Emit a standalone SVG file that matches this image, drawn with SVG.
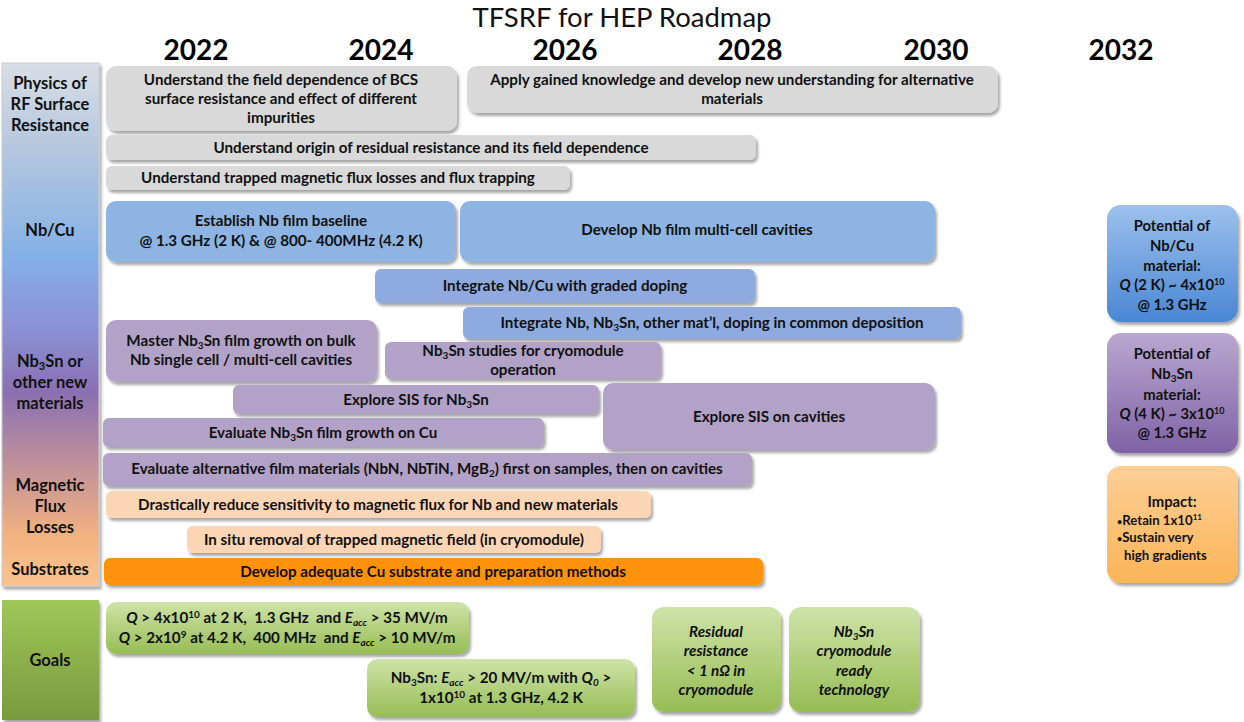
<svg xmlns="http://www.w3.org/2000/svg" width="1244" height="722" viewBox="0 0 1244 722">
<style>
text{font-family:Lato,"Open Sans","Liberation Sans",sans-serif;font-weight:bold;fill:#111;text-anchor:middle}
.t{font-size:15.2px}
.r{font-size:14.8px}
.s{font-size:13.2px}
.side{font-size:16.5px}
.year{font-size:28px;fill:#000}
.title{font-size:27.5px;font-weight:normal;fill:#111}
.i{font-style:italic}
.box{filter:url(#sh)}
.gray{fill:#d9d9d9}
.blue{fill:#8db4e2}
.bp{fill:#8eaadf}
.pur{fill:#b3a2c7}
.peach{fill:#fcd5b4}
.orange{fill:#ff9208}
.green{fill:url(#gg)}
</style>
<defs>
<filter id="sh" x="-10%" y="-20%" width="120%" height="150%">
<feGaussianBlur in="SourceAlpha" stdDeviation="1.6"/>
<feOffset dx="1.5" dy="2.5" result="b"/>
<feComponentTransfer><feFuncA type="linear" slope="0.35"/></feComponentTransfer>
<feMerge><feMergeNode/><feMergeNode in="SourceGraphic"/></feMerge>
</filter>
<linearGradient id="side" x1="0" y1="0" x2="0" y2="1">
<stop offset="0" stop-color="#d9dee6"/>
<stop offset="0.17" stop-color="#b3c6df"/>
<stop offset="0.37" stop-color="#84b0e6"/>
<stop offset="0.5" stop-color="#8b93d6"/>
<stop offset="0.63" stop-color="#8a70b2"/>
<stop offset="0.76" stop-color="#bd8f9c"/>
<stop offset="0.9" stop-color="#f1b180"/>
<stop offset="1" stop-color="#fbc38e"/>
</linearGradient>
<linearGradient id="goal" x1="0" y1="0" x2="0" y2="1">
<stop offset="0" stop-color="#9fc75a"/>
<stop offset="1" stop-color="#789a3e"/>
</linearGradient>
<linearGradient id="gg" x1="0" y1="0" x2="0" y2="1">
<stop offset="0" stop-color="#cfe3a8"/>
<stop offset="1" stop-color="#96bd55"/>
</linearGradient>
<linearGradient id="rb" x1="0" y1="0" x2="0" y2="1">
<stop offset="0" stop-color="#9cc1ec"/>
<stop offset="1" stop-color="#4a86d4"/>
</linearGradient>
<linearGradient id="rp" x1="0" y1="0" x2="0" y2="1">
<stop offset="0" stop-color="#b9a8d0"/>
<stop offset="1" stop-color="#7f62a6"/>
</linearGradient>
<linearGradient id="ro" x1="0" y1="0" x2="0" y2="1">
<stop offset="0" stop-color="#fdcf96"/>
<stop offset="1" stop-color="#fbb457"/>
</linearGradient>
</defs>

<rect width="1244" height="722" fill="#fff"/>

<text class="title" x="622" y="27">TFSRF for HEP Roadmap</text>
<g id="years">
<text class="year" x="196" y="60">2022</text>
<text class="year" x="381" y="60">2024</text>
<text class="year" x="565" y="60">2026</text>
<text class="year" x="750" y="60">2028</text>
<text class="year" x="936" y="60">2030</text>
<text class="year" x="1121" y="60">2032</text>
</g>

<g id="sidebar">
<rect x="2" y="63" width="97" height="523" fill="url(#side)" stroke="#c8ccd2" stroke-width="1" class="box"/>
<text class="side" x="50" y="89">Physics of</text>
<text class="side" x="50" y="110">RF Surface</text>
<text class="side" x="50" y="131">Resistance</text>
<text class="side" x="50" y="236">Nb/Cu</text>
<text class="side" x="50" y="367">Nb<tspan font-size="11" dy="3">3</tspan><tspan dy="-3">Sn or</tspan></text>
<text class="side" x="50" y="388">other new</text>
<text class="side" x="50" y="409">materials</text>
<text class="side" x="50" y="491">Magnetic</text>
<text class="side" x="50" y="512">Flux</text>
<text class="side" x="50" y="533">Losses</text>
<text class="side" x="50" y="575">Substrates</text>
</g>
<g id="goals-label">
<rect x="2" y="600" width="97" height="120" fill="url(#goal)" class="box"/>
<text class="side" x="50" y="666">Goals</text>
</g>

<g id="n1"><rect class="box gray" x="106" y="66" width="351" height="65" rx="10"/>
<text class="t" x="281" y="85">Understand the field dependence of BCS</text>
<text class="t" x="281" y="104">surface resistance and effect of different</text>
<text class="t" x="281" y="123">impurities</text></g>
<g id="n2"><rect class="box gray" x="467" y="66" width="531" height="47" rx="10"/>
<text class="t" x="732" y="85">Apply gained knowledge and develop new understanding for alternative</text>
<text class="t" x="732" y="104">materials</text></g>
<g id="n3"><rect class="box gray" x="106" y="135" width="650" height="25" rx="6"/>
<text class="t" x="431" y="153">Understand origin of residual resistance and its field dependence</text></g>
<g id="n4"><rect class="box gray" x="106" y="166" width="464" height="24" rx="6"/>
<text class="t" x="338" y="183">Understand trapped magnetic flux losses and flux trapping</text></g>

<g id="n5"><rect class="box blue" x="106" y="201" width="350" height="61" rx="10"/>
<text class="t" x="281" y="226">Establish Nb film baseline</text>
<text class="t" x="281" y="246">@ 1.3 GHz (2 K) &amp; @ 800- 400MHz (4.2 K)</text></g>
<g id="n6"><rect class="box blue" x="460" y="201" width="475" height="61" rx="10"/>
<text class="t" x="697" y="235">Develop Nb film multi-cell cavities</text></g>
<g id="n7"><rect class="box bp" x="375" y="269" width="380" height="34" rx="6"/>
<text class="t" x="565" y="291">Integrate Nb/Cu with graded doping</text></g>
<g id="n8"><rect class="box bp" x="463" y="307" width="498" height="32" rx="6"/>
<text class="t" x="712" y="328">Integrate Nb, Nb<tspan font-size="10" dy="3">3</tspan><tspan dy="-3">Sn, other mat’l, doping in common deposition</tspan></text></g>

<g id="n9"><rect class="box pur" x="106" y="320" width="271" height="62" rx="10"/>
<text class="t" x="241" y="346">Master Nb<tspan font-size="10" dy="3">3</tspan><tspan dy="-3">Sn film growth on bulk</tspan></text>
<text class="t" x="241" y="365">Nb single cell / multi-cell cavities</text></g>
<g id="n10"><rect class="box pur" x="385" y="342" width="276" height="37" rx="6"/>
<text class="t" x="523" y="356">Nb<tspan font-size="10" dy="3">3</tspan><tspan dy="-3">Sn studies for cryomodule</tspan></text>
<text class="t" x="523" y="375">operation</text></g>
<g id="n11"><rect class="box pur" x="233" y="385" width="366" height="29" rx="6"/>
<text class="t" x="416" y="405">Explore SIS for Nb<tspan font-size="10" dy="3">3</tspan><tspan dy="-3">Sn</tspan></text></g>
<g id="n12"><rect class="box pur" x="603" y="383" width="332" height="67" rx="10"/>
<text class="t" x="769" y="422">Explore SIS on cavities</text></g>
<g id="n13"><rect class="box pur" x="103" y="418" width="441" height="29" rx="6"/>
<text class="t" x="323" y="438">Evaluate Nb<tspan font-size="10" dy="3">3</tspan><tspan dy="-3">Sn film growth on Cu</tspan></text></g>
<g id="n14"><rect class="box pur" x="103" y="453" width="649" height="33" rx="6"/>
<text class="t" x="427" y="474">Evaluate alternative film materials (NbN, NbTiN, MgB<tspan font-size="10" dy="3">2</tspan><tspan dy="-3">) first on samples, then on cavities</tspan></text></g>

<g id="n15"><rect class="box peach" x="106" y="491" width="545" height="27" rx="6"/>
<text class="t" x="378" y="510">Drastically reduce sensitivity to magnetic flux for Nb and new materials</text></g>
<g id="n16"><rect class="box peach" x="187" y="526" width="414" height="27" rx="6"/>
<text class="t" x="394" y="545">In situ removal of trapped magnetic field (in cryomodule)</text></g>
<g id="n17"><rect class="box orange" x="104" y="558" width="659" height="27" rx="6"/>
<text class="t" x="433" y="577">Develop adequate Cu substrate and preparation methods</text></g>

<g id="g1"><rect class="box green" x="106" y="602" width="363" height="52" rx="10"/>
<text class="t" x="287" y="623"><tspan class="i">Q</tspan> &gt; 4x10<tspan font-size="10" dy="-5">10</tspan><tspan dy="5"> at 2 K, &#160;1.3 GHz &#160;and </tspan><tspan class="i">E</tspan><tspan class="i" font-size="10" dy="3">acc</tspan><tspan dy="-3"> &gt; 35 MV/m</tspan></text>
<text class="t" x="287" y="643"><tspan class="i">Q</tspan> &gt; 2x10<tspan font-size="10" dy="-5">9</tspan><tspan dy="5"> at 4.2 K, &#160;400 MHz &#160;and </tspan><tspan class="i">E</tspan><tspan class="i" font-size="10" dy="3">acc</tspan><tspan dy="-3"> &gt; 10 MV/m</tspan></text></g>
<g id="g2"><rect class="box green" x="367" y="659" width="268" height="58" rx="10"/>
<text class="t" x="501" y="683">Nb<tspan font-size="10" dy="3">3</tspan><tspan dy="-3">Sn: </tspan><tspan class="i">E</tspan><tspan class="i" font-size="10" dy="3">acc</tspan><tspan dy="-3"> &gt; 20 MV/m with </tspan><tspan class="i">Q</tspan><tspan class="i" font-size="10" dy="3">0</tspan><tspan dy="-3"> &gt;</tspan></text>
<text class="t" x="501" y="703">1x10<tspan font-size="10" dy="-5">10</tspan><tspan dy="5"> at 1.3 GHz, 4.2 K</tspan></text></g>
<g id="g3"><rect class="box green" x="652" y="607" width="129" height="105" rx="12"/>
<text class="t i" x="716" y="637">Residual</text>
<text class="t i" x="716" y="656">resistance</text>
<text class="t i" x="716" y="676">&lt; 1 nΩ in</text>
<text class="t i" x="716" y="695">cryomodule</text></g>
<g id="g4"><rect class="box green" x="789" y="607" width="131" height="105" rx="12"/>
<text class="t i" x="854" y="637">Nb<tspan font-size="10" dy="3">3</tspan><tspan dy="-3">Sn</tspan></text>
<text class="t i" x="854" y="656">cryomodule</text>
<text class="t i" x="854" y="676">ready</text>
<text class="t i" x="854" y="695">technology</text></g>

<g id="r1"><rect class="box" fill="url(#rb)" x="1107" y="205" width="131" height="117" rx="14"/>
<text class="r" x="1172" y="231">Potential of</text>
<text class="r" x="1172" y="251">Nb/Cu</text>
<text class="r" x="1172" y="271">material:</text>
<text class="r" x="1172" y="290"><tspan class="i">Q</tspan> (2 K) ~ 4x10<tspan font-size="9" dy="-5">10</tspan></text>
<text class="r" x="1172" y="310">@ 1.3 GHz</text></g>
<g id="r2"><rect class="box" fill="url(#rp)" x="1107" y="333" width="131" height="120" rx="14"/>
<text class="r" x="1172" y="359">Potential of</text>
<text class="r" x="1172" y="379">Nb<tspan font-size="10" dy="3">3</tspan><tspan dy="-3">Sn</tspan></text>
<text class="r" x="1172" y="400">material:</text>
<text class="r" x="1172" y="419"><tspan class="i">Q</tspan> (4 K) ~ 3x10<tspan font-size="9" dy="-5">10</tspan></text>
<text class="r" x="1172" y="438">@ 1.3 GHz</text></g>
<g id="r3"><rect class="box" fill="url(#ro)" x="1107" y="466" width="131" height="117" rx="14"/>
<text class="r" x="1172" y="507">Impact:</text>
<text class="s" x="1117" y="525" style="text-anchor:start"><tspan font-size="9">•</tspan>Retain 1x10<tspan font-size="8" dy="-5">11</tspan></text>
<text class="s" x="1117" y="542" style="text-anchor:start"><tspan font-size="9">•</tspan>Sustain very</text>
<text class="s" x="1124" y="560" style="text-anchor:start">high gradients</text></g>

<g id="connectors"></g>
</svg>
